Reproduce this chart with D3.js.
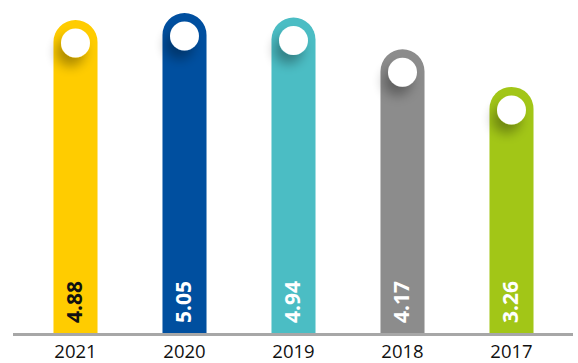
<!DOCTYPE html>
<html>
<head>
<meta charset="utf-8">
<script src="https://cdn.jsdelivr.net/npm/d3@7"></script>
<style>
  html, body { margin: 0; padding: 0; background: #fff; }
  svg { display: block; }
</style>
</head>
<body>
<svg id="chart" width="578" height="363"></svg>
<script>
// Yearly values, one pill-shaped bar per year
const years = ["2021", "2020", "2019", "2018", "2017"];
const values = [4.88, 5.05, 4.94, 4.17, 3.26];
const barColors = ["#FFCC00", "#004F9F", "#4BBDC4", "#8C8C8C", "#A2C617"];
const labelColors = ["#111111", "#FFFFFF", "#FFFFFF", "#FFFFFF", "#FFFFFF"];

const W = 578, H = 363;
const baseY = 333;

const svg = d3.select("#chart");

const x = d3.scaleBand()
  .domain(years)
  .range([21, 566])
  .paddingInner(0.596)
  .paddingOuter(0.298);

const y = d3.scaleLinear()
  .domain([-2.7, 5.05])
  .range([baseY, 13]);

// soft shadow cast by the white knob
const defs = svg.append("defs");
const f = defs.append("filter").attr("id", "knobShadow")
  .attr("x", "-150%").attr("y", "-150%").attr("width", "400%").attr("height", "400%");
f.append("feGaussianBlur").attr("in", "SourceAlpha").attr("stdDeviation", 6).attr("result", "blur");
f.append("feOffset").attr("in", "blur").attr("dx", -5).attr("dy", 9).attr("result", "off");
f.append("feComponentTransfer").attr("in", "off").attr("result", "shadow")
  .append("feFuncA").attr("type", "linear").attr("slope", 0.32);
const m = f.append("feMerge");
m.append("feMergeNode").attr("in", "shadow");
m.append("feMergeNode").attr("in", "SourceGraphic");

const bw = x.bandwidth();
const r = bw / 2;

function pill(year, v) {
  const x0 = x(year), x1 = x0 + bw, top = y(v);
  return `M${x0},${baseY}V${top + r}A${r},${r} 0 0 1 ${x1},${top + r}V${baseY}Z`;
}

const data = years.map((yr, i) => ({ year: yr, value: values[i], color: barColors[i], label: labelColors[i] }));

const g = svg.append("g");

g.selectAll("path.bar")
  .data(data)
  .join("path")
  .attr("class", "bar")
  .attr("d", d => pill(d.year, d.value))
  .attr("fill", d => d.color);

g.selectAll("circle.knob")
  .data(data)
  .join("circle")
  .attr("class", "knob")
  .attr("cx", d => x(d.year) + r)
  .attr("cy", d => y(d.value) + 23)
  .attr("r", 14.5)
  .attr("fill", "#fff")
  .attr("filter", "url(#knobShadow)");

// value labels, rotated, reading upward from near the base
g.selectAll("text.val")
  .data(data)
  .join("text")
  .attr("class", "val")
  .attr("transform", d => `translate(${x(d.year) + r + 6.5},${323}) rotate(-90)`)
  .attr("text-anchor", "start")
  .attr("font-family", "'Open Sans', sans-serif")
  .attr("font-weight", 700)
  .attr("font-size", 21)
  .attr("fill", d => d.label)
  .text(d => d.value.toFixed(2));

// baseline
svg.append("line")
  .attr("x1", 13).attr("x2", 573)
  .attr("y1", baseY + 1.5).attr("y2", baseY + 1.5)
  .attr("stroke", "#A7A7A7")
  .attr("stroke-width", 3);

// year axis
const axis = d3.axisBottom(x).tickSize(0).tickPadding(0);
const ax = svg.append("g")
  .attr("transform", `translate(0,${baseY + 3})`)
  .call(axis);
ax.select(".domain").remove();
ax.selectAll("text")
  .attr("dy", null)
  .attr("y", 22)
  .attr("font-family", "'Open Sans', sans-serif")
  .attr("font-size", 18.5)
  .attr("fill", "#111");
</script>
</body>
</html>
